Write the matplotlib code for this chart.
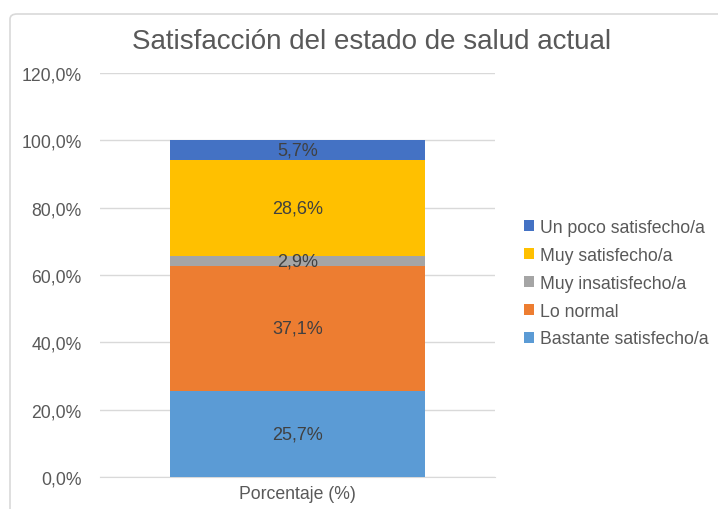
import matplotlib.pyplot as plt
from matplotlib.patches import FancyBboxPatch

plt.rcParams['font.family'] = ['Liberation Sans', 'DejaVu Sans']

# data
category = ['Porcentaje (%)']
labels = ['Bastante satisfecho/a', 'Lo normal', 'Muy insatisfecho/a',
          'Muy satisfecho/a', 'Un poco satisfecho/a']
values = [25.7, 37.1, 2.9, 28.6, 5.7]
colors = ['#5B9BD5', '#ED7D31', '#A5A5A5', '#FFC000', '#4472C4']
yticks = [0, 20, 40, 60, 80, 100, 120]

fig = plt.figure(figsize=(7.18, 5.10), dpi=100)
ax = fig.add_axes([0.139, 0.0627, 0.55, 0.792])

# chart frame
frame = FancyBboxPatch((10 / 718, -0.05), 1.0, 1 - 15 / 510 + 0.05,
                       boxstyle='round,pad=0,rounding_size=0.01',
                       transform=fig.transFigure, facecolor='none',
                       edgecolor='#D9D9D9', linewidth=1.2)
fig.add_artist(frame)

bottom = 0
for lab, val, col in zip(labels, values, colors):
    ax.bar(0, val, width=0.645, bottom=bottom, color=col, label=lab, zorder=3)
    ax.text(0, bottom + val / 2, f'{val:.1f}%'.replace('.', ','),
            ha='center', va='center', fontsize=13, color='#404040', zorder=4)
    bottom += val

ax.set_xlim(-0.5, 0.5)
ax.set_ylim(0, 120)
ax.set_yticks(yticks)
ax.set_yticklabels([f'{t:.1f}%'.replace('.', ',') for t in yticks])
ax.set_xticks([0])
ax.set_xticklabels(category)
ax.yaxis.grid(True, color='#D9D9D9', linewidth=1, zorder=0)
ax.set_axisbelow(True)
for s in ['left', 'right', 'top']:
    ax.spines[s].set_visible(False)
ax.spines['bottom'].set_color('#D9D9D9')
ax.tick_params(axis='both', length=0, labelsize=12.7, colors='#595959')
ax.tick_params(axis='y', pad=13)
ax.tick_params(axis='x', pad=6)

fig.text(0.517, 0.918, 'Satisfacción del estado de salud actual',
         ha='center', va='center', fontsize=20, color='#595959')

handles, hl = ax.get_legend_handles_labels()
fig.legend(handles[::-1], hl[::-1], loc='center left',
           bbox_to_anchor=(0.708, 0.443), frameon=False, fontsize=12.7,
           handlelength=0.55, handleheight=0.55, handletextpad=0.35,
           labelspacing=0.62, labelcolor='#595959')

fig.savefig('out.png', dpi=100)
